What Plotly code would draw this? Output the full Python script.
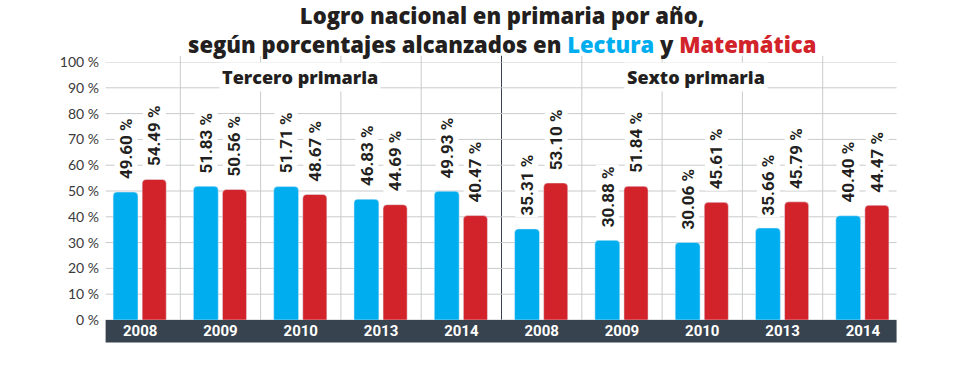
import plotly.graph_objects as go

# ---- data ----
years = ["2008", "2009", "2010", "2013", "2014", "2008", "2009", "2010", "2013", "2014"]
lectura = [49.60, 51.83, 51.71, 46.83, 49.93, 35.31, 30.88, 30.06, 35.66, 40.40]
matematica = [54.49, 50.56, 48.67, 44.69, 40.47, 53.10, 51.84, 45.61, 45.79, 44.47]
panels = ["Tercero primaria", "Sexto primaria"]
y_ticks = [0, 10, 20, 30, 40, 50, 60, 70, 80, 90, 100]
y_ticktext = [f"{v} %" for v in y_ticks]

BLUE = "#00AEEF"
RED = "#D2232A"
DARK = "#231F20"
BAND = "#37434F"
GRID = "#C9CACC"

xs = list(range(len(years)))
L_OFF, L_W = -0.337, 0.31
M_OFF, M_W = 0.025, 0.30

fig = go.Figure()
fig.add_trace(go.Bar(x=xs, y=lectura, name="Lectura", marker=dict(color=BLUE, cornerradius=4),
                     offset=L_OFF, width=L_W, hoverinfo="y"))
fig.add_trace(go.Bar(x=xs, y=matematica, name="Matemática", marker=dict(color=RED, cornerradius=4),
                     offset=M_OFF, width=M_W, hoverinfo="y"))

shapes = []
# horizontal gridlines
for v in y_ticks:
    shapes.append(dict(type="line", xref="x", yref="y", x0=-0.43, x1=9.42, y0=v, y1=v,
                       line=dict(color=GRID, width=1), layer="below"))
# vertical separators
for i in range(len(years) - 1):
    divider = (i == 4)
    shapes.append(dict(type="line", xref="x", yref="paper", x0=i + 0.5, x1=i + 0.5, y0=0, y1=1.024,
                       line=dict(color="#3A4050" if divider else GRID, width=1), layer="below"))
# bottom band
shapes.append(dict(type="rect", xref="x", yref="paper", x0=-0.43, x1=9.42, y0=-0.087, y1=0,
                   fillcolor=BAND, line=dict(width=0), layer="below"))

annotations = []
label_font = dict(family="Roboto", size=17, color=DARK)
for i in xs:
    for vals, off, w in ((lectura, L_OFF, L_W), (matematica, M_OFF, M_W)):
        v = vals[i]
        annotations.append(dict(x=i + off + w / 2, y=v, xref="x", yref="y",
                                text=f"<b>{v:.2f} %</b>", textangle=-90, showarrow=False,
                                xanchor="center", yanchor="bottom", yshift=11,
                                font=label_font, bgcolor="white", borderpad=1))
# panel titles
for text, xc in zip(panels, (1.995, 6.92)):
    annotations.append(dict(x=xc, y=94.3, xref="x", yref="y", text=text,
                            showarrow=False, xanchor="center", yanchor="middle",
                            font=dict(family="Open Sans", size=18, color=DARK, weight=800),
                            bgcolor="white", borderpad=2))

title_text = ("Logro nacional en primaria por año,<br>"
              "según porcentajes alcanzados en <span style='color:" + BLUE + "'>Lectura</span> y "
              "<span style='color:" + RED + "'>Matemática</span>")
annotations.append(dict(x=0.5, y=1.0, xref="paper", yref="paper", yanchor="middle", xanchor="center",
                        yshift=33, text=title_text, showarrow=False,
                        font=dict(family="Open Sans", size=22, color=DARK, weight=800)))

fig.update_layout(
    width=958, height=377,
    margin=dict(l=100, r=55, t=62, b=57),
    paper_bgcolor="white", plot_bgcolor="white",
    showlegend=False, barmode="overlay",
    shapes=shapes, annotations=annotations,
    xaxis=dict(range=[-0.5, 9.5], tickvals=xs, ticktext=[f"<b>{y}</b>" for y in years],
               tickfont=dict(family="Roboto", size=15, color="white"), showgrid=False,
               zeroline=False, ticks="", fixedrange=True),
    yaxis=dict(range=[0, 100], tickvals=y_ticks, ticktext=y_ticktext, showgrid=False,
               zeroline=False, tickfont=dict(family="Lato", size=14, color="#3A3A3A"),
               ticks="", fixedrange=True),
)

fig.write_html("out.html", config={"displayModeBar": False},
               post_script="document.body.style.margin='0px';")
